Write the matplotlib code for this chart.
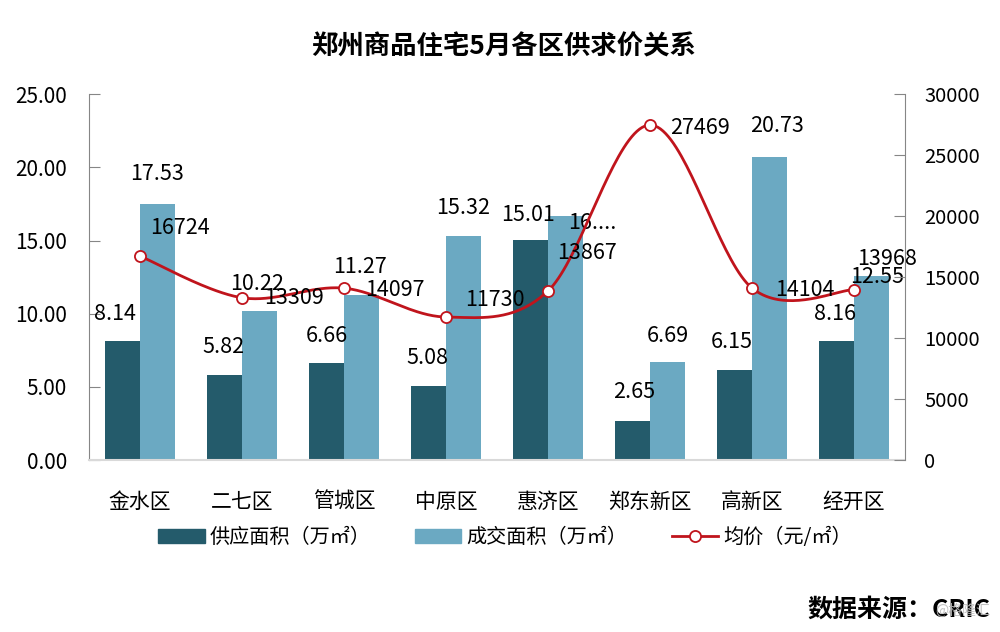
import numpy as np
import matplotlib
matplotlib.use("Agg")
import matplotlib.pyplot as plt
from matplotlib.patches import Patch
from matplotlib.lines import Line2D

plt.rcParams['font.family'] = ['Noto Sans CJK SC', 'DejaVu Sans']

# ---- data ----
districts = ['金水区', '二七区', '管城区', '中原区', '惠济区', '郑东新区', '高新区', '经开区']
supply = [8.14, 5.82, 6.66, 5.08, 15.01, 2.65, 6.15, 8.16]
deal = [17.53, 10.22, 11.27, 15.32, 16.67, 6.69, 20.73, 12.55]
deal_labels = ['17.53', '10.22', '11.27', '15.32', '16....', '6.69', '20.73', '12.55']
price = [16724, 13309, 14097, 11730, 13867, 27469, 14104, 13968]
left_ticks = [0, 5, 10, 15, 20, 25]
right_ticks = [0, 5000, 10000, 15000, 20000, 25000, 30000]

title = '郑州商品住宅5月各区供求价关系'
legend_labels = ['供应面积（万㎡）', '成交面积（万㎡）', '均价（元/㎡）']
source = '数据来源：CRIC'

# ---- styles ----
c_dark = '#245B6B'
c_light = '#6BA9C2'
c_red = '#C0141C'
fs_num = 15.5
# label offsets in pixels (dx, dy) - style only
supply_off = [(-8, 27), (-1, 28), (0, 27), (-1, 28), (-3, 25), (1, 29), (-3, 28), (-2, 27)]
deal_off = [(0, 30), (-2, 27), (-1, 28), (0, 28), (27, -7), (0, 26), (8, 31), (6, -1)]
price_off = [(10, 28), (22, 0), (21, -2), (19, 17), (9, 38), (20, -3), (23, -2), (3, 31)]

fig = plt.figure(figsize=(10, 6.32), dpi=100)
ax = fig.add_axes([0.089, 0.272, 0.816, 0.579])
ax2 = ax.twinx()

x = np.arange(len(districts))
w = 0.34
ax.bar(x - w / 2, supply, w, color=c_dark, zorder=2)
ax.bar(x + w / 2, deal, w, color=c_light, zorder=2)

ax.set_xlim(-0.5, len(districts) - 0.5)
ax.set_ylim(0, 25)
ax.set_yticks(left_ticks)
ax.set_yticklabels([f'{v:.2f}' for v in left_ticks], fontsize=15)
ax.set_xticks(x)
ax.set_xticklabels(districts, fontsize=15)
ax.tick_params(axis='x', length=0, pad=22)
ax.tick_params(axis='y', direction='in', length=8, color='#868686', pad=16)

for i in x:
    dx, dy = supply_off[i]
    ax.annotate(f'{supply[i]:.2f}', (i - w / 2, supply[i]), xytext=(dx, dy),
                textcoords='offset pixels', ha='center', va='center', fontsize=fs_num, zorder=5)
    dx, dy = deal_off[i]
    ax.annotate(deal_labels[i], (i + w / 2, deal[i]), xytext=(dx, dy),
                textcoords='offset pixels', ha='center', va='center', fontsize=fs_num, zorder=5)

for s in ['top', 'right']:
    ax.spines[s].set_visible(False)
ax.spines['left'].set_color('#868686')
ax.spines['bottom'].set_color('#D9D9D9')
ax.spines['bottom'].set_linewidth(1.5)

# ---- smooth price line (Catmull-Rom / Excel-style smoothing in screen units) ----
sx, sy = 102.0, 366.0 / 30000.0
P = np.column_stack([x * sx, np.array(price, dtype=float) * sy])
Pe = np.vstack([P[0], P, P[-1]])
curve = []
t = np.linspace(0, 1, 40)[:, None]
for k in range(len(P) - 1):
    p0, p1, p2, p3 = Pe[k], Pe[k + 1], Pe[k + 2], Pe[k + 3]
    c1 = p1 + (p2 - p0) / 6.0
    c2 = p2 - (p3 - p1) / 6.0
    seg = (1 - t) ** 3 * p1 + 3 * (1 - t) ** 2 * t * c1 + 3 * (1 - t) * t ** 2 * c2 + t ** 3 * p2
    curve.append(seg if k == 0 else seg[1:])
curve = np.vstack(curve)
ax2.plot(curve[:, 0] / sx, curve[:, 1] / sy, color=c_red, lw=2.0, zorder=3)
ax2.plot(x, price, ls='none', marker='o', ms=8, mfc='white', mec=c_red, mew=1.3, zorder=4)

for i in x:
    dx, dy = price_off[i]
    ax2.annotate(str(price[i]), (i, price[i]), xytext=(dx, dy), textcoords='offset pixels',
                 ha='left', va='center', fontsize=fs_num, zorder=6)

ax2.set_ylim(0, 30000)
ax2.set_yticks(right_ticks)
ax2.set_yticklabels([str(v) for v in right_ticks], fontsize=fs_num - 1)
ax2.tick_params(axis='y', direction='in', length=8, color='#868686', pad=14)
for s in ['top', 'left', 'bottom']:
    ax2.spines[s].set_visible(False)
ax2.spines['right'].set_color('#868686')

# ---- title, legend, source ----
fig.text(0.504, 0.925, title, ha='center', va='center', fontsize=19, fontweight='bold')

handles = [Patch(color=c_dark), Patch(color=c_light),
           Line2D([], [], color=c_red, lw=2.0, marker='o', ms=8, mfc='white', mec=c_red, mew=1.3)]
fig.legend(handles, legend_labels, loc='center', bbox_to_anchor=(0.505, 0.149), ncol=3,
           frameon=False, fontsize=14.5, handlelength=2.3, handleheight=0.7,
           handletextpad=0.25, columnspacing=2.2)

fig.text(0.99, 0.035, source, ha='right', va='center', fontsize=18, fontweight='bold')
fig.text(0.99, 0.033, '@格隆汇', ha='right', va='center', fontsize=10, color='#BBBBBB', alpha=0.9)

fig.savefig('out.png', dpi=100)
